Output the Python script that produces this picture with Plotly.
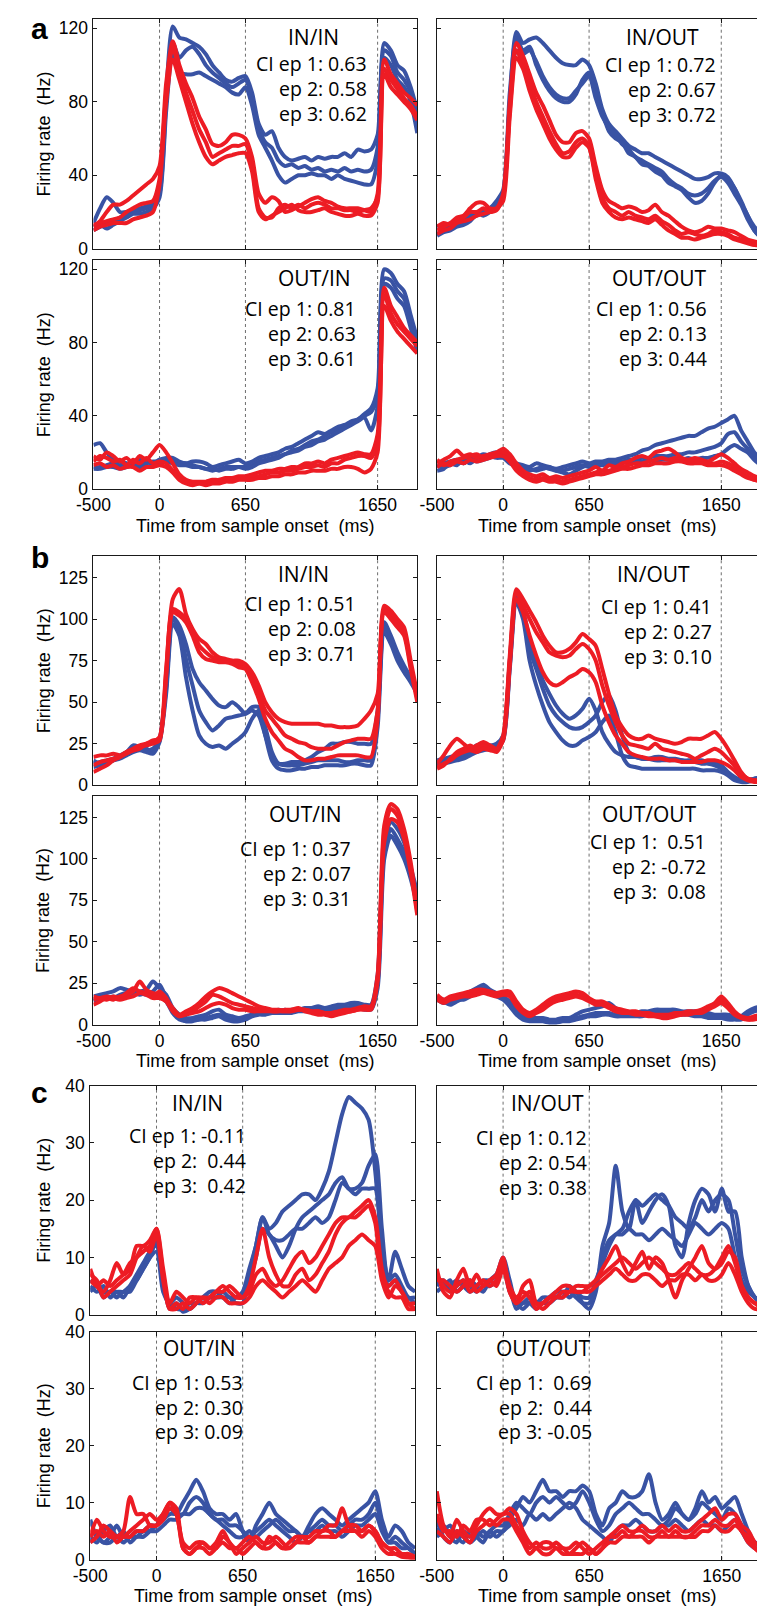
import plotly.graph_objects as go

# ---------------------------------------------------------------- data
T_MS = [-500, -450, -400, -350, -300, -250, -200, -150, -100, -50,
        0, 50, 100, 150, 200, 250, 300, 350, 400, 450,
        500, 550, 600, 650, 700, 750, 800, 850, 900, 950,
        1000, 1050, 1100, 1150, 1200, 1250, 1300, 1350, 1400, 1450,
        1500, 1550, 1600, 1650, 1700, 1750, 1800, 1850, 1900, 1950]

EVENT_MS = [0, 650, 1650]
X_TICKS = [-500, 0, 650, 1650]
X_TICK_TEXT = ["-500", "0", "650", "1650"]
Y_TICKS = {"a": [0, 40, 80, 120], "b": [0, 25, 50, 75, 100, 125], "c": [0, 10, 20, 30, 40]}
Y_MAX = {"a": 125, "b": 138, "c": 40}

# ---- panel a
A_ININ_BLUE = [
    [14, 22, 28, 25, 20, 20, 21, 22, 23, 25, 35, 85, 121, 115, 114, 112, 110, 106, 100, 96,
     92, 91, 93, 94, 85, 68, 62, 64, 55, 50, 48, 49, 50, 48, 50, 49, 50, 50, 52, 50,
     54, 53, 54, 62, 112, 108, 100, 97, 88, 75],
    [10, 12, 14, 15, 17, 18, 20, 21, 22, 24, 30, 80, 112, 104, 108, 110, 106, 100, 96, 93,
     90, 88, 90, 92, 82, 66, 58, 55, 48, 45, 46, 44, 45, 43, 44, 42, 43, 42, 44, 42,
     43, 42, 43, 55, 108, 105, 96, 92, 85, 68],
    [12, 13, 11, 13, 15, 17, 19, 19, 20, 22, 28, 75, 108, 96, 95, 95, 96, 94, 92, 90,
     88, 85, 84, 88, 78, 62, 55, 48, 40, 36, 38, 40, 40, 41, 40, 40, 38, 40, 38, 37,
     36, 35, 35, 48, 104, 100, 92, 88, 80, 63],
]
A_ININ_RED = [
    [12, 15, 20, 24, 24, 26, 29, 32, 35, 38, 45, 90, 113, 100, 90, 82, 72, 65, 57, 56,
     58, 62, 62, 60, 50, 30, 25, 28, 26, 20, 21, 23, 25, 27, 28, 26, 25, 23, 22, 22,
     22, 21, 20, 30, 103, 95, 90, 85, 82, 78],
    [13, 14, 15, 16, 17, 20, 22, 24, 25, 26, 38, 85, 110, 96, 85, 75, 65, 58, 50, 52,
     54, 56, 56, 57, 45, 22, 17, 17, 22, 24, 22, 24, 22, 24, 25, 24, 22, 22, 21, 21,
     20, 21, 22, 28, 98, 92, 87, 82, 78, 72],
    [10, 12, 13, 14, 14, 14, 16, 17, 18, 20, 35, 80, 103, 92, 80, 68, 58, 50, 46, 48,
     50, 51, 52, 52, 42, 20, 16, 18, 20, 22, 24, 21, 20, 20, 21, 22, 20, 19, 18, 18,
     19, 18, 18, 25, 95, 88, 84, 80, 76, 70],
]
A_INOUT_BLUE = [
    [8, 10, 12, 14, 15, 18, 20, 18, 20, 24, 30, 80, 118, 112, 114, 115, 112, 108, 104, 101,
     100, 100, 103, 100, 90, 76, 68, 64, 60, 56, 54, 52, 52, 50, 48, 46, 44, 42, 40, 38,
     38, 39, 41, 41, 39, 33, 25, 18, 10, 6],
    [12, 13, 12, 15, 14, 17, 18, 20, 22, 26, 32, 85, 115, 108, 110, 100, 92, 86, 82, 80,
     80, 84, 92, 96, 85, 74, 64, 60, 58, 52, 50, 46, 45, 42, 40, 36, 34, 32, 28, 25,
     26, 30, 36, 40, 38, 33, 26, 18, 12, 8],
    [7, 9, 10, 12, 13, 15, 19, 21, 22, 25, 30, 78, 108, 106, 108, 102, 94, 88, 84, 82,
     82, 86, 90, 94, 82, 72, 66, 62, 57, 54, 50, 48, 46, 44, 42, 38, 35, 33, 30, 29,
     30, 33, 37, 39, 36, 30, 24, 16, 10, 6],
]
A_INOUT_RED = [
    [10, 12, 14, 17, 18, 22, 25, 25, 22, 22, 30, 80, 112, 105, 95, 85, 78, 70, 62, 58,
     58, 63, 64, 60, 45, 32, 26, 24, 22, 23, 22, 20, 21, 24, 20, 18, 15, 12, 10, 9,
     10, 12, 11, 11, 10, 9, 7, 5, 4, 3],
    [12, 14, 13, 15, 17, 20, 20, 22, 20, 21, 28, 75, 108, 100, 90, 80, 72, 64, 57, 52,
     53, 58, 60, 56, 40, 28, 22, 20, 18, 20, 18, 17, 16, 18, 15, 13, 10, 8, 9, 8,
     7, 8, 10, 9, 8, 6, 5, 4, 3, 2],
    [8, 10, 11, 14, 15, 16, 18, 19, 20, 22, 26, 72, 104, 98, 86, 76, 68, 60, 54, 50,
     50, 55, 58, 55, 38, 25, 20, 17, 16, 17, 16, 15, 14, 16, 13, 10, 8, 6, 6, 5,
     6, 7, 8, 8, 7, 5, 4, 3, 2, 2],
]
A_OUTIN_BLUE = [
    [24, 25, 20, 16, 15, 14, 14, 16, 15, 14, 16, 17, 17, 15, 14, 15, 15, 14, 12, 13,
     14, 15, 16, 14, 15, 17, 18, 19, 20, 22, 23, 25, 27, 29, 31, 30, 32, 34, 35, 37,
     38, 41, 44, 55, 120, 118, 112, 108, 95, 82],
    [12, 12, 13, 14, 13, 14, 12, 13, 14, 15, 15, 16, 15, 14, 14, 13, 12, 11, 10, 11,
     12, 12, 12, 12, 13, 15, 16, 17, 18, 19, 21, 22, 24, 26, 27, 29, 31, 32, 34, 36,
     38, 40, 42, 50, 115, 114, 108, 104, 92, 78],
    [11, 11, 12, 12, 11, 12, 13, 12, 12, 13, 14, 15, 14, 13, 13, 12, 12, 11, 11, 10,
     11, 11, 12, 11, 12, 14, 15, 16, 17, 19, 20, 21, 23, 24, 26, 27, 29, 31, 33, 35,
     37, 39, 32, 45, 112, 110, 104, 100, 88, 75],
]
A_OUTIN_RED = [
    [18, 16, 20, 18, 15, 17, 14, 18, 16, 20, 24, 20, 14, 8, 5, 4, 4, 4, 5, 5,
     6, 6, 7, 7, 8, 9, 10, 10, 11, 11, 12, 12, 14, 14, 15, 14, 16, 17, 18, 19,
     20, 19, 19, 30, 110, 100, 94, 88, 84, 80],
    [15, 18, 17, 15, 16, 13, 16, 14, 17, 14, 15, 14, 10, 6, 4, 3, 3, 3, 4, 4,
     5, 5, 6, 6, 7, 7, 8, 9, 9, 10, 10, 11, 12, 12, 13, 12, 14, 14, 16, 17,
     18, 18, 17, 25, 106, 96, 90, 86, 82, 78],
    [13, 14, 12, 13, 11, 12, 12, 10, 12, 12, 13, 12, 9, 5, 3, 2, 3, 2, 3, 3,
     4, 4, 5, 5, 5, 6, 6, 7, 7, 8, 8, 9, 9, 10, 10, 10, 11, 11, 12, 12,
     11, 9, 11, 20, 100, 92, 86, 82, 78, 74],
]
A_OUTOUT_BLUE = [
    [12, 14, 15, 16, 14, 17, 18, 17, 19, 20, 18, 16, 14, 13, 12, 14, 13, 12, 11, 12,
     13, 14, 15, 14, 15, 15, 16, 16, 17, 18, 19, 21, 22, 24, 25, 26, 27, 28, 29, 29,
     31, 33, 34, 36, 38, 40, 32, 26, 20, 16],
    [10, 11, 14, 13, 16, 14, 17, 19, 18, 17, 17, 14, 13, 12, 11, 10, 11, 12, 10, 9,
     8, 10, 12, 13, 14, 14, 15, 15, 15, 16, 16, 17, 17, 18, 18, 18, 19, 19, 20, 20,
     21, 22, 23, 25, 30, 31, 26, 22, 18, 14],
    [13, 12, 13, 15, 14, 16, 15, 16, 17, 19, 18, 15, 12, 11, 10, 11, 12, 11, 10, 10,
     11, 12, 13, 12, 13, 13, 14, 14, 15, 14, 15, 15, 16, 15, 16, 16, 17, 16, 17, 16,
     17, 17, 18, 19, 22, 24, 22, 20, 16, 13],
]
A_OUTOUT_RED = [
    [14, 16, 18, 21, 18, 19, 17, 18, 19, 20, 22, 19, 14, 10, 8, 7, 8, 6, 7, 6,
     7, 8, 9, 10, 12, 10, 13, 12, 14, 15, 17, 18, 17, 20, 21, 22, 20, 17, 16, 17,
     16, 15, 17, 19, 17, 14, 11, 9, 7, 6],
    [16, 13, 15, 16, 17, 18, 19, 17, 18, 19, 20, 17, 12, 8, 6, 5, 6, 5, 5, 4,
     5, 6, 7, 8, 9, 10, 10, 11, 12, 13, 14, 14, 15, 16, 17, 16, 17, 16, 15, 15,
     15, 14, 14, 15, 14, 12, 9, 7, 5, 5],
    [12, 14, 13, 15, 14, 16, 15, 16, 17, 18, 18, 15, 10, 7, 5, 4, 5, 4, 4, 3,
     4, 5, 6, 7, 8, 8, 9, 10, 11, 11, 12, 13, 13, 14, 14, 14, 15, 15, 14, 14,
     14, 13, 13, 13, 12, 10, 8, 6, 5, 4],
]

# ---- panel b
B_ININ_BLUE = [
    [13, 14, 15, 16, 18, 20, 24, 23, 22, 20, 27, 60, 101, 96, 85, 70, 62, 57, 52, 48,
     47, 50, 47, 43, 45, 42, 30, 18, 13, 13, 14, 14, 15, 17, 20, 22, 25, 25, 26, 26,
     25, 25, 25, 45, 98, 90, 80, 72, 65, 58],
    [15, 13, 14, 15, 17, 19, 22, 22, 21, 22, 28, 58, 100, 94, 76, 60, 45, 38, 33, 36,
     40, 41, 42, 43, 47, 47, 35, 20, 13, 12, 12, 12, 13, 14, 15, 15, 15, 15, 14, 14,
     15, 15, 15, 40, 95, 88, 78, 70, 64, 57],
    [11, 12, 13, 15, 16, 18, 20, 21, 20, 19, 26, 55, 97, 90, 65, 45, 30, 25, 23, 24,
     22, 25, 28, 32, 40, 45, 30, 15, 10, 9, 9, 10, 10, 11, 11, 12, 12, 12, 12, 13,
     13, 12, 12, 35, 92, 85, 75, 68, 62, 55],
]
B_ININ_RED = [
    [17, 18, 18, 19, 18, 20, 21, 22, 25, 26, 29, 70, 112, 118, 103, 94, 88, 85, 80, 77,
     76, 75, 75, 73, 68, 60, 50, 44, 40, 38, 37, 37, 37, 37, 37, 36, 36, 35, 35, 35,
     36, 40, 45, 55, 108, 105, 100, 95, 75, 55],
    [8, 10, 12, 15, 17, 20, 22, 24, 25, 27, 28, 68, 106, 104, 100, 93, 84, 80, 77, 76,
     75, 74, 73, 72, 64, 55, 45, 40, 35, 30, 28, 26, 25, 23, 22, 22, 22, 24, 26, 27,
     28, 28, 28, 45, 106, 102, 97, 92, 72, 52],
    [12, 14, 15, 16, 17, 19, 21, 23, 24, 25, 27, 65, 104, 102, 98, 90, 80, 76, 75, 74,
     74, 73, 71, 70, 62, 52, 40, 32, 27, 22, 20, 17, 15, 15, 16, 16, 17, 18, 18, 18,
     18, 17, 17, 40, 104, 100, 95, 90, 70, 50],
]
B_INOUT_BLUE = [
    [15, 16, 17, 18, 19, 21, 24, 25, 24, 25, 30, 75, 115, 105, 88, 75, 63, 55, 48, 43,
     40, 42, 46, 52, 45, 32, 25, 20, 18, 17, 17, 16, 16, 17, 17, 16, 16, 15, 15, 15,
     15, 14, 14, 12, 8, 5, 3, 3, 4, 5],
    [13, 14, 15, 16, 17, 19, 21, 22, 23, 24, 28, 72, 113, 103, 82, 70, 58, 48, 42, 38,
     35, 34, 35, 38, 42, 50, 54, 45, 30, 20, 17, 16, 16, 15, 15, 15, 15, 15, 14, 14,
     13, 13, 12, 10, 7, 4, 3, 3, 4, 5],
    [12, 13, 14, 15, 16, 18, 20, 21, 22, 23, 27, 70, 110, 100, 75, 60, 48, 38, 32, 27,
     24, 24, 27, 29, 32, 38, 42, 32, 18, 12, 11, 10, 10, 10, 10, 10, 10, 10, 10, 10,
     9, 9, 9, 8, 6, 3, 2, 2, 3, 4],
]
B_INOUT_RED = [
    [13, 18, 24, 28, 25, 22, 24, 26, 24, 22, 30, 78, 118, 112, 105, 98, 90, 84, 80, 80,
     82, 86, 91, 88, 84, 70, 55, 42, 35, 30, 28, 28, 30, 28, 27, 26, 25, 26, 28, 28,
     28, 30, 32, 28, 22, 15, 8, 4, 3, 3],
    [10, 12, 16, 20, 22, 24, 22, 24, 22, 20, 28, 75, 116, 108, 100, 92, 86, 80, 78, 77,
     78, 82, 85, 82, 75, 60, 48, 38, 30, 25, 24, 23, 22, 25, 22, 21, 20, 19, 18, 16,
     18, 20, 22, 20, 16, 12, 7, 4, 3, 3],
    [11, 13, 15, 18, 20, 21, 20, 22, 21, 21, 27, 72, 112, 104, 90, 78, 68, 62, 60, 62,
     65, 67, 70, 68, 62, 48, 38, 30, 25, 20, 18, 17, 16, 16, 16, 15, 15, 14, 14, 14,
     14, 15, 15, 14, 12, 9, 5, 3, 2, 2],
]
B_OUTIN_BLUE = [
    [17, 18, 19, 20, 22, 21, 20, 20, 21, 26, 22, 18, 10, 6, 4, 4, 5, 6, 8, 9,
     6, 5, 4, 5, 6, 7, 8, 8, 9, 8, 9, 9, 10, 10, 11, 10, 11, 12, 12, 13,
     13, 12, 12, 30, 110, 122, 118, 110, 95, 80],
    [14, 16, 17, 16, 18, 19, 18, 19, 18, 20, 24, 16, 8, 4, 2, 3, 3, 4, 5, 6,
     4, 3, 3, 4, 6, 7, 7, 8, 8, 9, 8, 9, 9, 10, 9, 10, 10, 11, 10, 11,
     12, 11, 10, 25, 105, 118, 112, 104, 90, 76],
    [16, 15, 16, 17, 16, 18, 19, 18, 19, 18, 17, 14, 7, 3, 2, 2, 3, 3, 4, 5,
     3, 2, 2, 3, 5, 6, 6, 7, 7, 7, 7, 8, 8, 8, 8, 9, 9, 9, 9, 10,
     10, 9, 9, 22, 100, 114, 108, 100, 88, 72],
]
B_OUTIN_RED = [
    [12, 14, 16, 15, 17, 18, 20, 26, 21, 19, 18, 15, 10, 6, 8, 10, 13, 17, 20, 22,
     21, 19, 17, 15, 13, 11, 10, 9, 9, 8, 8, 9, 9, 8, 8, 7, 7, 8, 9, 9,
     10, 11, 11, 30, 120, 133, 130, 118, 98, 70],
    [15, 16, 15, 17, 16, 19, 22, 20, 19, 17, 20, 16, 9, 5, 7, 8, 11, 14, 18, 17,
     15, 13, 12, 11, 10, 9, 9, 8, 8, 9, 9, 10, 8, 7, 6, 6, 5, 6, 7, 8,
     9, 10, 10, 28, 116, 130, 126, 115, 95, 68],
    [17, 16, 17, 16, 15, 16, 17, 19, 18, 16, 16, 14, 8, 5, 6, 7, 8, 10, 12, 13,
     12, 10, 9, 9, 8, 8, 8, 8, 8, 8, 9, 9, 9, 8, 8, 7, 7, 7, 8, 8,
     9, 9, 9, 26, 110, 124, 122, 112, 92, 66],
]
B_OUTOUT_BLUE = [
    [15, 13, 14, 16, 18, 20, 22, 24, 21, 19, 17, 14, 10, 7, 5, 4, 4, 3, 3, 4,
     4, 6, 8, 9, 10, 11, 13, 10, 8, 7, 7, 8, 8, 9, 9, 9, 9, 8, 8, 8,
     7, 7, 6, 6, 6, 5, 5, 8, 10, 11],
    [17, 14, 12, 14, 16, 18, 20, 22, 20, 18, 16, 12, 8, 5, 3, 3, 3, 2, 2, 3,
     3, 4, 5, 6, 7, 7, 7, 6, 6, 6, 6, 7, 7, 8, 8, 8, 8, 7, 7, 6,
     6, 5, 5, 5, 4, 4, 4, 7, 9, 10],
    [16, 15, 13, 15, 15, 17, 19, 21, 19, 17, 15, 11, 6, 3, 2, 2, 2, 1, 1, 2,
     2, 3, 4, 5, 5, 6, 6, 5, 5, 5, 5, 5, 6, 6, 7, 7, 7, 6, 6, 5,
     5, 4, 4, 4, 3, 3, 3, 6, 8, 9],
]
B_OUTOUT_RED = [
    [18, 15, 17, 18, 19, 20, 21, 21, 20, 19, 20, 20, 14, 9, 7, 9, 12, 15, 17, 18,
     19, 20, 19, 16, 14, 14, 12, 10, 9, 8, 8, 7, 7, 6, 6, 6, 7, 7, 8, 8,
     9, 11, 13, 17, 13, 8, 5, 4, 5, 6],
    [16, 14, 16, 17, 18, 18, 19, 20, 19, 18, 19, 18, 12, 8, 6, 8, 10, 13, 15, 16,
     17, 18, 17, 15, 13, 13, 11, 9, 8, 7, 7, 6, 6, 5, 5, 5, 6, 6, 7, 7,
     8, 10, 12, 15, 11, 7, 4, 3, 4, 5],
    [15, 13, 15, 16, 17, 17, 18, 19, 18, 17, 18, 17, 11, 7, 5, 7, 9, 12, 14, 15,
     16, 17, 16, 14, 12, 12, 10, 8, 7, 7, 6, 6, 5, 5, 4, 4, 5, 6, 6, 7,
     7, 9, 11, 13, 10, 6, 4, 3, 3, 4],
]

# ---- panel c
C_ININ_BLUE = [
    [6, 5, 4, 4, 4, 3, 5, 7, 9, 11, 12, 5, 2, 1, 1, 2, 2, 3, 3, 3,
     4, 3, 3, 4, 8, 12, 17, 15, 16, 18, 19, 20, 21, 21, 20, 22, 25, 30, 35, 38,
     37, 36, 34, 25, 12, 6, 11, 8, 5, 4],
    [5, 4, 5, 3, 4, 4, 5, 6, 8, 10, 13, 6, 1, 2, 0.5, 1, 2, 2, 3, 3,
     3, 2, 3, 3, 6, 10, 15, 14, 12, 10, 12, 15, 17, 18, 19, 20, 21, 23, 24, 22,
     22, 23, 26, 28, 15, 6, 7, 5, 3, 3],
    [4, 5, 3, 4, 3, 4, 4, 6, 8, 10, 11, 4, 2, 3, 2, 1, 2, 3, 4, 4,
     3, 3, 2, 2, 7, 12, 17, 14, 13, 13, 14, 15, 15, 16, 17, 16, 17, 20, 23, 22,
     21, 22, 22, 22, 12, 5, 6, 4, 3, 2],
]
C_ININ_RED = [
    [8, 5, 4, 6, 9, 7, 8, 12, 12, 13, 15, 8, 2, 4, 3, 2, 3, 3, 3, 4,
     5, 4, 3, 3, 5, 10, 15, 10, 7, 5, 5, 7, 8, 6, 7, 9, 11, 14, 16, 17,
     17, 18, 19, 16, 7, 5, 6, 4, 2, 2],
    [6, 5, 6, 5, 6, 7, 9, 10, 11, 12, 15, 7, 1, 2, 1, 3, 3, 2, 3, 4,
     4, 5, 4, 3, 4, 7, 8, 6, 5, 6, 8, 10, 11, 9, 10, 12, 14, 16, 17, 17,
     18, 19, 20, 17, 8, 4, 3, 3, 1, 1],
    [7, 6, 3, 4, 5, 6, 7, 10, 12, 11, 14, 6, 1, 1, 2, 1, 2, 3, 2, 3,
     3, 2, 2, 2, 3, 5, 6, 5, 4, 3, 4, 5, 6, 5, 4, 6, 8, 9, 10, 12,
     13, 14, 13, 12, 6, 3, 5, 4, 2, 1],
]
C_INOUT_BLUE = [
    [6, 5, 5, 6, 5, 4, 5, 6, 6, 7, 10, 6, 2, 2, 3, 2, 2, 3, 4, 4,
     3, 4, 2, 1, 4, 12, 16, 26, 18, 15, 20, 16, 18, 20, 21, 19, 12, 10, 16, 20,
     22, 21, 18, 22, 18, 18, 10, 5, 3, 2],
    [5, 6, 4, 5, 6, 5, 4, 5, 5, 6, 9, 5, 1, 2, 2, 1, 2, 2, 3, 4,
     4, 3, 2, 2, 5, 10, 13, 14, 15, 18, 20, 19, 20, 21, 20, 19, 17, 16, 15, 17,
     20, 18, 20, 21, 20, 14, 8, 5, 3, 2],
    [4, 5, 6, 4, 5, 6, 5, 4, 6, 7, 8, 4, 2, 1, 2, 2, 3, 3, 3, 3,
     5, 4, 3, 3, 6, 9, 12, 14, 14, 15, 14, 14, 13, 14, 15, 14, 13, 12, 14, 16,
     15, 14, 15, 16, 15, 10, 6, 4, 3, 2],
]
C_INOUT_RED = [
    [8, 4, 3, 6, 8, 5, 7, 5, 6, 7, 10, 4, 2, 5, 6, 2, 2, 3, 4, 5,
     5, 4, 4, 5, 6, 8, 10, 12, 9, 7, 9, 11, 8, 10, 9, 6, 3, 6, 8, 10,
     12, 9, 8, 9, 11, 10, 5, 3, 2, 2],
    [7, 5, 4, 5, 6, 4, 5, 6, 5, 6, 9, 5, 3, 4, 3, 1, 2, 3, 3, 4,
     4, 5, 5, 5, 6, 7, 8, 9, 10, 9, 8, 9, 10, 9, 8, 7, 7, 8, 9, 8,
     7, 7, 8, 10, 12, 9, 5, 3, 2, 1],
    [6, 6, 5, 4, 5, 6, 4, 5, 6, 5, 8, 4, 2, 3, 4, 2, 1, 2, 3, 3,
     4, 4, 4, 4, 5, 6, 7, 8, 7, 6, 6, 7, 7, 6, 5, 6, 6, 7, 7, 6,
     7, 6, 6, 7, 9, 7, 4, 2, 1, 1],
]
C_OUTIN_BLUE = [
    [7, 4, 3, 4, 6, 4, 4, 5, 5, 6, 6, 8, 9, 8, 10, 12, 14, 12, 9, 8,
     8, 7, 8, 5, 3, 6, 8, 10, 8, 7, 6, 5, 4, 6, 8, 9, 8, 7, 6, 7,
     8, 9, 10, 12, 7, 4, 6, 5, 3, 2],
    [4, 3, 5, 6, 4, 5, 3, 4, 4, 5, 6, 7, 8, 8, 8, 10, 11, 10, 8, 7,
     6, 5, 4, 4, 5, 4, 5, 6, 7, 6, 5, 5, 4, 5, 6, 7, 6, 6, 5, 6,
     7, 7, 8, 10, 6, 3, 4, 3, 2, 1],
    [3, 4, 3, 3, 4, 3, 4, 4, 5, 5, 5, 6, 7, 7, 8, 8, 9, 9, 8, 7,
     7, 6, 6, 5, 4, 5, 6, 7, 6, 5, 4, 3, 4, 5, 5, 6, 5, 5, 4, 5,
     6, 6, 7, 8, 5, 3, 3, 2, 2, 1],
]
C_OUTIN_RED = [
    [4, 7, 5, 4, 4, 5, 11, 8, 8, 6, 6, 8, 10, 8, 3, 2, 3, 3, 2, 3,
     5, 3, 2, 3, 4, 3, 2, 4, 3, 2, 3, 4, 4, 4, 5, 5, 6, 6, 9, 6,
     5, 5, 6, 5, 3, 2, 2, 1, 1, 0.5],
    [3, 4, 6, 5, 4, 4, 5, 6, 7, 8, 7, 8, 10, 9, 2, 1, 2, 3, 2, 2,
     4, 3, 1, 2, 3, 4, 3, 3, 4, 3, 2, 3, 4, 3, 4, 5, 5, 4, 5, 6,
     6, 5, 6, 5, 3, 2, 1, 1, 0.5, 0],
    [4, 5, 4, 5, 3, 4, 4, 5, 5, 6, 6, 7, 9, 8, 2, 1, 2, 2, 1, 2,
     3, 2, 2, 1, 2, 3, 2, 2, 3, 2, 2, 3, 3, 3, 4, 4, 4, 4, 5, 5,
     5, 4, 5, 4, 2, 1, 1, 0.5, 0.3, 0],
]
C_OUTOUT_BLUE = [
    [7, 4, 3, 5, 4, 3, 4, 5, 4, 5, 5, 7, 9, 11, 10, 12, 14, 12, 12, 11,
     12, 12, 13, 12, 8, 6, 9, 10, 12, 11, 11, 12, 15, 10, 7, 8, 10, 8, 7, 9,
     12, 10, 11, 9, 10, 11, 8, 5, 3, 3],
    [5, 6, 4, 3, 5, 4, 5, 4, 5, 6, 6, 8, 10, 9, 8, 10, 11, 10, 11, 10,
     9, 10, 12, 10, 7, 5, 6, 8, 9, 10, 9, 8, 8, 7, 6, 7, 9, 8, 7, 8,
     10, 9, 8, 7, 9, 8, 6, 4, 3, 2],
    [4, 5, 6, 4, 3, 5, 4, 3, 5, 4, 5, 6, 7, 6, 8, 7, 8, 7, 8, 9,
     10, 9, 7, 6, 5, 4, 3, 5, 6, 6, 7, 6, 5, 5, 6, 6, 7, 6, 5, 6,
     7, 6, 6, 5, 6, 7, 5, 3, 2, 2],
]
C_OUTOUT_RED = [
    [12, 6, 4, 7, 5, 4, 6, 8, 9, 8, 8, 9, 8, 5, 3, 2, 3, 3, 2, 2,
     1, 2, 3, 2, 1, 2, 4, 5, 6, 5, 5, 6, 5, 5, 6, 5, 6, 5, 5, 6,
     7, 8, 9, 7, 8, 8, 6, 5, 3, 2],
    [8, 5, 5, 4, 6, 5, 7, 7, 6, 7, 8, 8, 6, 4, 2, 3, 2, 2, 3, 2,
     2, 3, 2, 1, 2, 3, 4, 4, 5, 4, 5, 5, 4, 4, 5, 4, 5, 4, 4, 5,
     6, 6, 7, 6, 6, 7, 5, 4, 2, 1],
    [5, 4, 3, 5, 4, 3, 5, 6, 7, 6, 7, 7, 5, 3, 1, 2, 1, 1, 2, 1,
     1, 1, 1, 2, 1, 2, 3, 3, 4, 4, 4, 4, 3, 4, 4, 4, 4, 4, 4, 4,
     5, 5, 6, 5, 5, 6, 5, 3, 2, 1],
]

CI_LINES = {
    ("a", "IN/IN"): ["CI ep 1: 0.63", "ep 2: 0.58", "ep 3: 0.62"],
    ("a", "IN/OUT"): ["CI ep 1: 0.72", "ep 2: 0.67", "ep 3: 0.72"],
    ("a", "OUT/IN"): ["CI ep 1: 0.81", "ep 2: 0.63", "ep 3: 0.61"],
    ("a", "OUT/OUT"): ["CI ep 1: 0.56", "ep 2: 0.13", "ep 3: 0.44"],
    ("b", "IN/IN"): ["CI ep 1: 0.51", "ep 2: 0.08", "ep 3: 0.71"],
    ("b", "IN/OUT"): ["CI ep 1: 0.41", "ep 2: 0.27", "ep 3: 0.10"],
    ("b", "OUT/IN"): ["CI ep 1: 0.37", "ep 2: 0.07", "ep 3: 0.31"],
    ("b", "OUT/OUT"): ["CI ep 1:  0.51", "ep 2: -0.72", "ep 3:  0.08"],
    ("c", "IN/IN"): ["CI ep 1: -0.11", "ep 2:  0.44", "ep 3:  0.42"],
    ("c", "IN/OUT"): ["CI ep 1: 0.12", "ep 2: 0.54", "ep 3: 0.38"],
    ("c", "OUT/IN"): ["CI ep 1: 0.53", "ep 2: 0.30", "ep 3: 0.09"],
    ("c", "OUT/OUT"): ["CI ep 1:  0.69", "ep 2:  0.44", "ep 3: -0.05"],
}

SERIES = {
    ("a", "IN/IN"): (A_ININ_BLUE, A_ININ_RED),
    ("a", "IN/OUT"): (A_INOUT_BLUE, A_INOUT_RED),
    ("a", "OUT/IN"): (A_OUTIN_BLUE, A_OUTIN_RED),
    ("a", "OUT/OUT"): (A_OUTOUT_BLUE, A_OUTOUT_RED),
    ("b", "IN/IN"): (B_ININ_BLUE, B_ININ_RED),
    ("b", "IN/OUT"): (B_INOUT_BLUE, B_INOUT_RED),
    ("b", "OUT/IN"): (B_OUTIN_BLUE, B_OUTIN_RED),
    ("b", "OUT/OUT"): (B_OUTOUT_BLUE, B_OUTOUT_RED),
    ("c", "IN/IN"): (C_ININ_BLUE, C_ININ_RED),
    ("c", "IN/OUT"): (C_INOUT_BLUE, C_INOUT_RED),
    ("c", "OUT/IN"): (C_OUTIN_BLUE, C_OUTIN_RED),
    ("c", "OUT/OUT"): (C_OUTOUT_BLUE, C_OUTOUT_RED),
}

# ---------------------------------------------------------------- layout geometry (pixels)
W, H = 757, 1617
BLUE = "#3953a4"
RED = "#ed1c24"
TICK_FONT = dict(family="Liberation Sans, Arial, sans-serif", size=17.5, color="#000")
LABEL_FONT = dict(family="Liberation Sans, Arial, sans-serif", size=18, color="#000")
TEXT_FONT = "Open Sans, Noto Sans, sans-serif"

COL_X = {
    "a": [(77.3, 409.0), (429.3, 757.0)],
    "b": [(77.3, 409.0), (429.3, 757.0)],
    "c": [(74.0, 406.7), (429.0, 757.0)],
}
ROW_Y = {
    "a": [(9.3, 241.7), (253.3, 485.0)],
    "b": [(552.7, 785.0), (795.7, 1027.3)],
    "c": [(1089.0, 1321.0), (1338.3, 1569.0)],
}
# condition -> (row, col)
GRID = {"IN/IN": (0, 0), "IN/OUT": (0, 1), "OUT/IN": (1, 0), "OUT/OUT": (1, 1)}
# title centre x, title y, CI block right edge x, CI first line y
TEXT_POS = {
    ("a", "IN/IN"): (302.5, 27.2, 360.0, 53.8),
    ("a", "IN/OUT"): (660.5, 27.8, 716.7, 55.5),
    ("a", "OUT/IN"): (304.0, 271.2, 348.3, 302.2),
    ("a", "OUT/OUT"): (656.7, 271.2, 708.3, 302.2),
    ("b", "IN/IN"): (292.5, 571.3, 348.3, 600.5),
    ("b", "IN/OUT"): (650.8, 571.3, 713.3, 604.2),
    ("b", "OUT/IN"): (294.0, 814.2, 343.3, 849.2),
    ("b", "OUT/OUT"): (646.7, 813.7, 707.0, 841.7),
    ("c", "IN/IN"): (184.3, 1106.3, 236.0, 1139.2),
    ("c", "IN/OUT"): (542.2, 1106.3, 585.0, 1141.5),
    ("c", "OUT/IN"): (185.7, 1354.5, 232.3, 1389.2),
    ("c", "OUT/OUT"): (538.3, 1354.5, 590.0, 1389.2),
}
LINE_STEP = 25.3
LETTER_POS = {"a": (11.0, 18.9), "b": (11.0, 554.6), "c": (11.0, 1096.3)}


def px_x(p):
    return p / W


def px_y(p):
    return 1 - p / H


fig = go.Figure()
layout = {}
shapes = []
annotations = []

n = 0
for panel in ["a", "b", "c"]:
    for cond in ["IN/IN", "IN/OUT", "OUT/IN", "OUT/OUT"]:
        n += 1
        row, col = GRID[cond]
        x0, x1 = COL_X[panel][col]
        y0, y1 = ROW_Y[panel][row]
        lx0, lx1 = COL_X[panel][0]
        ms_per_px = 2450.0 / (lx1 - lx0)
        x_max = -500 + (x1 - x0) * ms_per_px
        xa = "x" if n == 1 else f"x{n}"
        ya = "y" if n == 1 else f"y{n}"
        key_x = "xaxis" if n == 1 else f"xaxis{n}"
        key_y = "yaxis" if n == 1 else f"yaxis{n}"

        layout[key_x] = dict(
            domain=[px_x(x0), px_x(x1)], range=[-500, x_max], anchor=ya,
            showline=True, linecolor="#1a1a1a", linewidth=1, mirror="ticks",
            ticks="inside", ticklen=4, tickcolor="#1a1a1a",
            tickvals=X_TICKS, ticktext=X_TICK_TEXT, showticklabels=(row == 1),
            tickfont=TICK_FONT, showgrid=False, zeroline=False, fixedrange=True,
        )
        layout[key_y] = dict(
            domain=[px_y(y1), px_y(y0)], range=[0, Y_MAX[panel]], anchor=xa,
            showline=True, linecolor="#1a1a1a", linewidth=1,
            mirror=("ticks" if col == 0 else False),
            ticks="inside", ticklen=4, tickcolor="#1a1a1a", ticklabelstandoff=1,
            tickvals=Y_TICKS[panel], ticktext=[str(v) for v in Y_TICKS[panel]],
            showticklabels=(col == 0), tickfont=TICK_FONT,
            showgrid=False, zeroline=False, fixedrange=True,
        )

        for ev in EVENT_MS:
            shapes.append(dict(
                type="line", xref=xa, yref=f"{ya} domain", x0=ev, x1=ev, y0=0, y1=1,
                line=dict(color="#6e6e6e", width=1, dash="dot"), layer="below",
            ))

        blue, red = SERIES[(panel, cond)]
        for vals, color in [(v, BLUE) for v in blue] + [(v, RED) for v in red]:
            fig.add_trace(go.Scatter(
                x=T_MS, y=vals, xaxis=xa, yaxis=ya, mode="lines",
                line=dict(color=color, width=4, shape="spline", smoothing=0.7),
                showlegend=False, hoverinfo="skip",
            ))

        tx, ty, cx, cy = TEXT_POS[(panel, cond)]
        annotations.append(dict(
            text=cond, xref="paper", yref="paper", x=px_x(tx), y=px_y(ty),
            xanchor="center", yanchor="middle", showarrow=False,
            font=dict(family=TEXT_FONT, size=21, color="#000"),
        ))
        for k, line in enumerate(CI_LINES[(panel, cond)]):
            annotations.append(dict(
                text=line.replace(" ", "\u00a0"), xref="paper", yref="paper",
                x=px_x(cx), y=px_y(cy + k * LINE_STEP),
                xanchor="right", yanchor="middle", showarrow=False,
                font=dict(family=TEXT_FONT, size=19.5, color="#000"),
            ))

        if col == 0:
            annotations.append(dict(
                text="Firing rate\u00a0\u00a0(Hz)", xref="paper", yref="paper",
                x=px_x(26.3), y=px_y((y0 + y1) / 2), textangle=-90,
                xanchor="center", yanchor="middle", showarrow=False, font=LABEL_FONT,
            ))
        if row == 1:
            annotations.append(dict(
                text="Time from sample onset\u00a0\u00a0(ms)", xref="paper", yref="paper",
                x=px_x((x0 + min(x1, x0 + (lx1 - lx0))) / 2), y=px_y(y1 + 37),
                xanchor="center", yanchor="middle", showarrow=False, font=LABEL_FONT,
            ))

for letter, (lx, ly) in LETTER_POS.items():
    annotations.append(dict(
        text=f"<b>{letter}</b>", xref="paper", yref="paper", x=px_x(lx), y=px_y(ly),
        xanchor="left", yanchor="middle", showarrow=False,
        font=dict(family="Liberation Sans, Arial, sans-serif", size=30, color="#000"),
    ))

fig.update_layout(
    width=W, height=H, margin=dict(l=0, r=0, t=0, b=0), autosize=False,
    paper_bgcolor="white", plot_bgcolor="white",
    shapes=shapes, annotations=annotations, **layout,
)

fig.write_html("out.html", config={"displayModeBar": False, "responsive": False})

# page chrome: no body margin and no scrolling, so the page is exactly the figure size
with open("out.html", encoding="utf-8") as fh:
    html = fh.read()
css = ("<style>html,body{margin:0;padding:0;overflow:hidden;"
       f"width:{W}px;height:{H}px;}}</style>")
if "</head>" in html:
    html = html.replace("</head>", css + "</head>", 1)
else:
    html = css + html
with open("out.html", "w", encoding="utf-8") as fh:
    fh.write(html)
